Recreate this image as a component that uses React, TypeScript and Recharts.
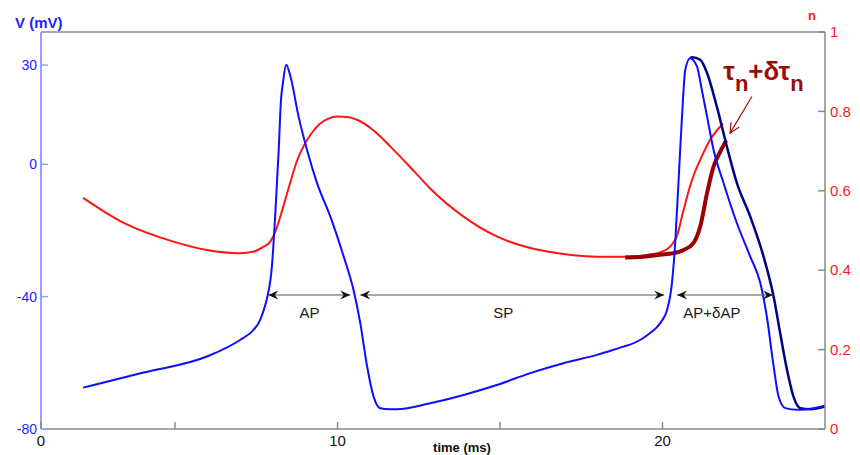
import React from 'react';
import {
  ComposedChart,
  Line,
  XAxis,
  YAxis,
  ReferenceLine,
  ReferenceDot
} from 'recharts';

// membrane potential, two spikes (ms, mV)
const blueT = [2.17, 4.0, 5.98, 7.0, 7.42, 7.62, 7.72, 7.83, 7.98, 8.08, 8.19, 8.26, 8.32, 8.42, 8.55, 8.8, 9.06, 9.37, 9.78, 10.19, 10.49, 10.7, 10.91, 11.11, 11.31, 11.62, 11.83, 12.85, 13.88, 14.9, 15.93, 16.95, 17.98, 18.8, 19.0, 19.31, 19.62, 19.83, 20.0, 20.14, 20.29, 20.39, 20.49, 20.6, 20.7, 20.85, 21.06, 21.21, 21.37, 21.57, 21.88, 22.29, 22.7, 23.01, 23.21, 23.42, 23.57, 23.78, 24.14, 24.65, 25.0];
const blueV = [-67.5, -63.0, -58.1, -53.1, -50.0, -47.0, -44.3, -40.5, -30.9, -15.8, 4.4, 19.5, 24.6, 30.1, 26.6, 14.5, 4.4, -5.7, -15.8, -27.9, -37.9, -48.0, -61.1, -70.2, -73.7, -74.0, -74.0, -72.2, -69.7, -66.7, -63.1, -60.1, -57.6, -55.1, -54.5, -53.1, -51.0, -49.2, -47.0, -44.0, -35.9, -23.8, -5.7, 14.5, 28.6, 32.1, 29.6, 22.5, 14.5, 4.4, -5.7, -17.8, -27.9, -35.9, -46.0, -61.1, -70.2, -73.7, -74.2, -73.7, -73.0];

// second spike with tau_n + delta tau_n
const navyT = [20.85, 20.91, 21.16, 21.37, 21.67, 21.98, 22.29, 22.7, 23.11, 23.42, 23.62, 23.83, 24.03, 24.24, 24.55, 25.0];
const navyV = [32.1, 32.4, 31.6, 27.6, 17.5, 5.4, -5.7, -15.8, -27.9, -40.0, -51.0, -62.1, -70.2, -73.7, -74.0, -73.2];

// gating variable n
const nT = [2.17, 3.42, 4.95, 5.98, 7.0, 7.42, 7.7, 7.93, 8.1, 8.24, 8.4, 8.55, 8.75, 8.95, 9.2, 9.45, 9.7, 10.0, 10.3, 10.6, 11.11, 11.62, 11.93, 12.4, 12.85, 13.88, 14.9, 15.93, 16.95, 17.98, 18.8, 19.31, 19.62, 19.93, 20.24, 20.44, 20.65, 20.85, 21.0, 21.16, 21.47, 21.86];
const nVals = [0.582, 0.519, 0.472, 0.451, 0.443, 0.447, 0.458, 0.472, 0.5, 0.535, 0.58, 0.622, 0.675, 0.712, 0.745, 0.768, 0.781, 0.787, 0.786, 0.779, 0.752, 0.712, 0.686, 0.645, 0.606, 0.535, 0.485, 0.456, 0.441, 0.434, 0.434, 0.436, 0.44, 0.445, 0.46, 0.485, 0.552, 0.612, 0.648, 0.678, 0.729, 0.769];

// n with slowed tau
const slowT = [18.85, 19.31, 19.93, 20.34, 20.65, 20.95, 21.16, 21.37, 21.57, 21.78, 21.96];
const slowN = [0.432, 0.433, 0.439, 0.443, 0.451, 0.468, 0.51, 0.594, 0.661, 0.699, 0.727];

const vTicks = [-80, -40, 0, 30];
const nTicks = [0, 0.2, 0.4, 0.6, 0.8, 1];
const timeTicks = [0.875, 5, 10, 15, 20];
const timeLabels = ['0', '', '10', '', '20'];

const blueData = blueT.map((t, i) => ({ t, v: blueV[i] }));
const navyData = navyT.map((t, i) => ({ t, v: navyV[i] }));
const nData = nT.map((t, i) => ({ t, n: nVals[i] }));
const slowData = slowT.map((t, i) => ({ t, n: slowN[i] }));

const FONT = '"Liberation Sans", Arial, sans-serif';
const GRAY = '#8a8a8a';

const LeftTick = (props: any) => {
  const { x, y, payload } = props;
  return (
    <g>
      <line x1={x} y1={y} x2={x + 7} y2={y} stroke="#9c9cff" strokeWidth={1.5} />
      <text x={x - 4} y={y} dy="0.35em" textAnchor="end" fill="#2222ff" fontSize={14} fontFamily={FONT}>
        {payload.value}
      </text>
    </g>
  );
};

const RightTick = (props: any) => {
  const { x, y, payload } = props;
  return (
    <g>
      <line x1={x - 7} y1={y} x2={x} y2={y} stroke={GRAY} strokeWidth={1.5} />
      <text x={x + 5} y={y} dy="0.35em" textAnchor="start" fill="#ff1a1a" fontSize={15} fontFamily={FONT}>
        {payload.value}
      </text>
    </g>
  );
};

const TimeTick = (props: any) => {
  const { x, y, payload } = props;
  const label = timeLabels[timeTicks.indexOf(payload.value)];
  return (
    <g>
      <line x1={x} y1={y} x2={x} y2={y - 7} stroke={GRAY} strokeWidth={1.5} />
      {label ? (
        <text x={x} y={y + 17} textAnchor="middle" fill="#111" fontSize={15} fontFamily={FONT}>
          {label}
        </text>
      ) : null}
    </g>
  );
};

const arrowHead = (x: number, y: number, dir: number) =>
  `M${x},${y} L${x - dir * 10},${y - 4.5} L${x - dir * 6.5},${y} L${x - dir * 10},${y + 4.5} Z`;

const DoubleArrow = (p: any) => (
  <g>
    <line x1={p.x1} y1={p.y1} x2={p.x2} y2={p.y2} stroke="#555" strokeWidth={1} />
    <path d={arrowHead(p.x1, p.y1, -1)} fill="#111" />
    <path d={arrowHead(p.x2, p.y2, 1)} fill="#111" />
  </g>
);

const PointerArrow = (p: any) => {
  const dx = p.x2 - p.x1;
  const dy = p.y2 - p.y1;
  const a = Math.atan2(dy, dx);
  const l = 11;
  const w1 = a + Math.PI - 0.45;
  const w2 = a + Math.PI + 0.45;
  return (
    <g stroke="#a01010" strokeWidth={1.2} fill="none">
      <line x1={p.x1} y1={p.y1} x2={p.x2} y2={p.y2} />
      <polyline
        points={`${p.x2 + l * Math.cos(w1)},${p.y2 + l * Math.sin(w1)} ${p.x2},${p.y2} ${p.x2 + l * Math.cos(w2)},${p.y2 + l * Math.sin(w2)}`}
      />
    </g>
  );
};

const textShape = (label: string) => (p: any) => (
  <text x={p.cx} y={p.cy} dy="0.35em" textAnchor="middle" fill="#1a1a1a" fontSize={15} fontFamily={FONT}>
    {label}
  </text>
);

const TauLabel = (p: any) => (
  <text x={p.cx} y={p.cy} fill="#9b0a0a" fontWeight="bold" fontFamily={FONT}>
    <tspan fontSize={26}>τ</tspan>
    <tspan fontSize={22} dy={11}>n</tspan>
    <tspan fontSize={26} dy={-11}>+δτ</tspan>
    <tspan fontSize={22} dy={11}>n</tspan>
  </text>
);

export default function App() {
  return (
    <div style={{ position: 'absolute', left: 0, top: 0, width: 860, height: 455, background: '#fff', fontFamily: FONT }}>
      <ComposedChart width={860} height={455} margin={{ top: 32, right: 0, bottom: 0, left: 0 }}>
        <XAxis
          dataKey="t"
          type="number"
          domain={[0.875, 25]}
          allowDataOverflow
          ticks={timeTicks}
          interval={0}
          height={26}
          tickSize={0}
          tickMargin={0}
          tickLine={false}
          tick={<TimeTick />}
          axisLine={{ stroke: GRAY, strokeWidth: 1.5 }}
        />
        <YAxis
          yAxisId="v"
          orientation="left"
          type="number"
          domain={[-80, 40]}
          allowDataOverflow
          ticks={vTicks}
          interval={0}
          width={41}
          tickSize={0}
          tickMargin={0}
          tickLine={false}
          tick={<LeftTick />}
          axisLine={{ stroke: '#9c9cff', strokeWidth: 2 }}
        />
        <YAxis
          yAxisId="n"
          orientation="right"
          type="number"
          domain={[0, 1]}
          allowDataOverflow
          ticks={nTicks}
          interval={0}
          width={35}
          tickSize={0}
          tickMargin={0}
          tickLine={false}
          tick={<RightTick />}
          axisLine={{ stroke: GRAY, strokeWidth: 1.5 }}
        />
        <ReferenceLine yAxisId="v" y={40} stroke={GRAY} strokeWidth={1.5} />

        <Line data={nData} yAxisId="n" dataKey="n" type="monotone" stroke="#ff1414" strokeWidth={2} dot={false} isAnimationActive={false} />
        <Line data={slowData} yAxisId="n" dataKey="n" type="monotone" stroke="#9b0000" strokeWidth={4} dot={false} isAnimationActive={false} />
        <Line data={navyData} yAxisId="v" dataKey="v" type="monotone" stroke="#000080" strokeWidth={2.5} dot={false} isAnimationActive={false} />
        <Line data={blueData} yAxisId="v" dataKey="v" type="monotone" stroke="#0d0dff" strokeWidth={2} dot={false} isAnimationActive={false} />

        <ReferenceLine yAxisId="v" segment={[{ x: 7.87, y: -39.5 }, { x: 10.39, y: -39.5 }]} shape={DoubleArrow} />
        <ReferenceLine yAxisId="v" segment={[{ x: 10.7, y: -39.5 }, { x: 20.05, y: -39.5 }]} shape={DoubleArrow} />
        <ReferenceLine yAxisId="v" segment={[{ x: 20.45, y: -39.5 }, { x: 23.4, y: -39.5 }]} shape={DoubleArrow} />
        <ReferenceDot yAxisId="v" x={9.14} y={-45} r={0} shape={textShape('AP')} />
        <ReferenceDot yAxisId="v" x={15.1} y={-45} r={0} shape={textShape('SP')} />
        <ReferenceDot yAxisId="v" x={21.52} y={-45} r={0} shape={textShape('AP+δAP')} />

        <ReferenceLine yAxisId="v" segment={[{ x: 22.75, y: 20.5 }, { x: 22.08, y: 9.45 }]} shape={PointerArrow} />
        <ReferenceDot yAxisId="v" x={21.87} y={25.6} r={0} shape={TauLabel} />
      </ComposedChart>
      <svg width={860} height={455} style={{ position: 'absolute', left: 0, top: 0, pointerEvents: 'none' }}>
        <text x={15} y={28} fill="#2222ff" fontSize={15} fontWeight="bold" fontFamily={FONT}>V (mV)</text>
        <text x={812} y={20} fill="#ff1a1a" fontSize={13} fontWeight="bold" textAnchor="middle" fontFamily={FONT}>n</text>
        <text x={462} y={452} fill="#111" fontSize={13} fontWeight="bold" textAnchor="middle" fontFamily={FONT}>time (ms)</text>
      </svg>
    </div>
  );
}
